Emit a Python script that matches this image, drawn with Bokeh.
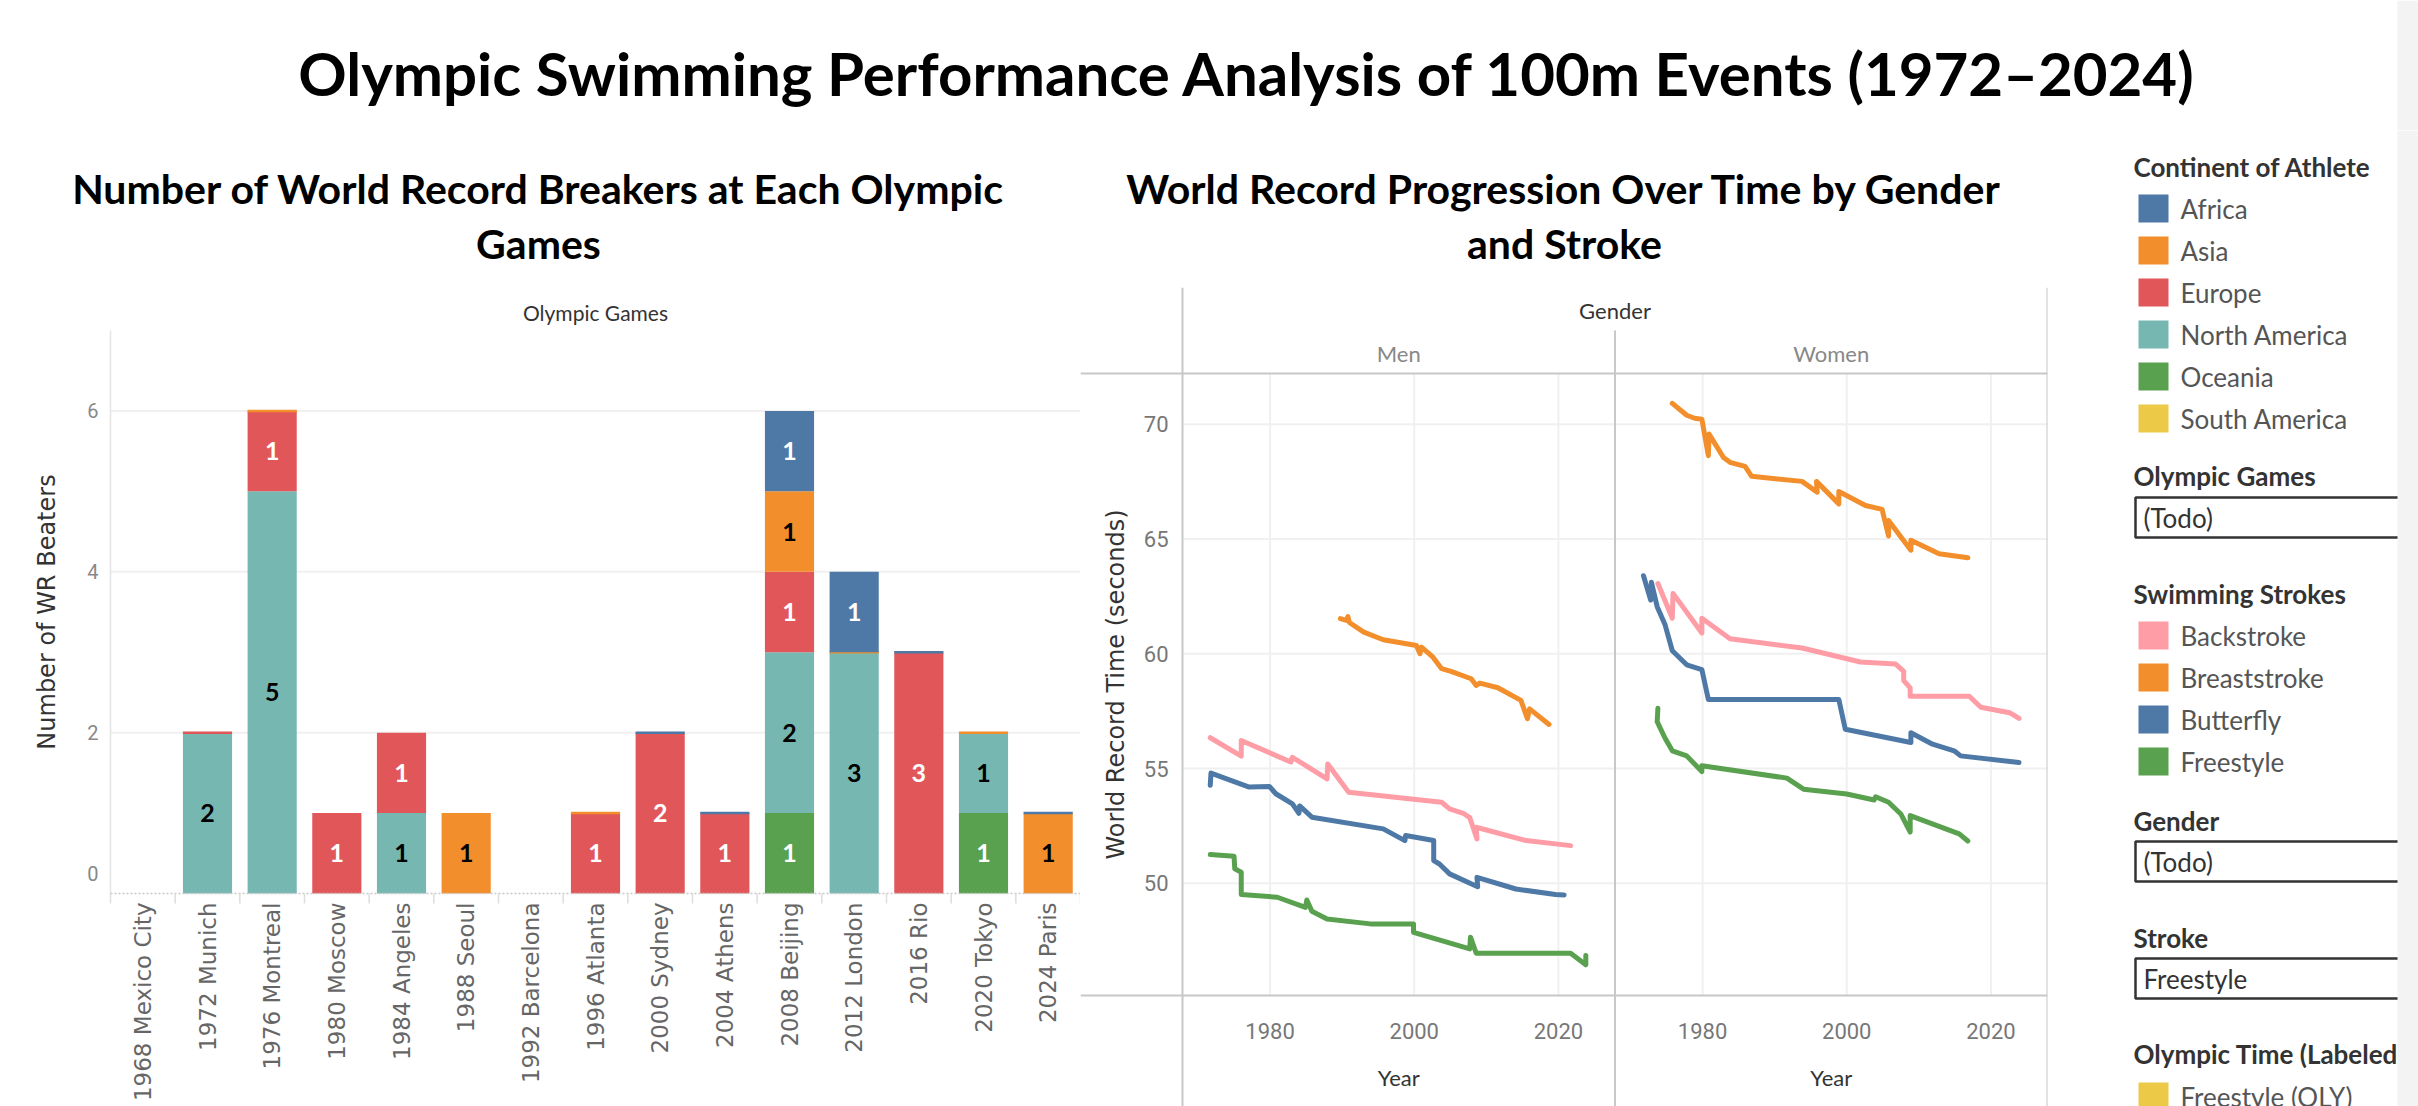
import math
from bokeh.plotting import figure
from bokeh.models import Range1d, ColumnDataSource, Arrow
from bokeh.layouts import row, column
from bokeh.embed import file_html
from bokeh.resources import INLINE
from bokeh.core.properties import value

# ---------------------------------------------------------------- data
main_title = "Olympic Swimming Performance Analysis of 100m Events (1972\u20132024)"
left_title = ["Number of World Record Breakers at Each Olympic", "Games"]
right_title = ["World Record Progression Over Time by Gender", "and Stroke"]

games = ["1968 Mexico City", "1972 Munich", "1976 Montreal", "1980 Moscow",
         "1984 Angeles", "1988 Seoul", "1992 Barcelona", "1996 Atlanta",
         "2000 Sydney", "2004 Athens", "2008 Beijing", "2012 London",
         "2016 Rio", "2020 Tokyo", "2024 Paris"]

continents = ["Africa", "Asia", "Europe", "North America", "Oceania", "South America"]
continent_colors = ["#4E79A7", "#F28E2B", "#E15759", "#76B7B2", "#59A14F", "#EDC948"]
label_colors = ["white", "black", "white", "black", "white", "black"]
# bottom-to-top stacking of the continents
stack_order = ["South America", "Oceania", "North America", "Europe", "Asia", "Africa"]

# world record breakers per Games (None = no swimmer, 0 = present but no record)
wr_africa = [None, None, None, None, None, None, None, None, 0, 0, 1, 1, 0, None, 0]
wr_asia = [None, None, 0, None, None, 1, None, 0, None, None, 1, 0, None, 0, 1]
wr_europe = [None, 0, 1, 1, 1, None, None, 1, 2, 1, 1, None, 3, None, None]
wr_north_america = [None, 2, 5, None, 1, None, None, None, None, None, 2, 3, None, 1, None]
wr_oceania = [None, None, None, None, None, None, None, None, None, None, 1, None, None, 1, None]
wr_south_america = [None] * 15
wr_counts = [wr_africa, wr_asia, wr_europe, wr_north_america, wr_oceania, wr_south_america]

count_ticks = [0, 2, 4, 6]
count_max = 7

strokes = ["Backstroke", "Breaststroke", "Butterfly", "Freestyle"]
stroke_colors = ["#FF9DA7", "#F28E2B", "#4E79A7", "#59A14F"]

# world record progression (year, seconds)
men_back_year = [1971.7, 1976.0, 1976.0, 1982.9, 1983.1, 1987.9, 1988.0, 1990.9, 2003.8,
                 2004.9, 2006.8, 2007.7, 2008.7, 2008.6, 2015.5, 2021.7]
men_back_time = [56.34, 55.54, 56.22, 55.28, 55.49, 54.55, 55.20, 53.97, 53.53,
                 53.24, 53.05, 52.86, 51.93, 52.44, 51.86, 51.64]
men_breast_year = [1989.75, 1990.6, 1990.8, 1991.0, 1993.0, 1995.7, 2000.3, 2000.8, 2001.0,
                   2002.6, 2003.8, 2005.1, 2007.9, 2008.6, 2009.1, 2011.6, 2014.8, 2015.7,
                   2016.0, 2018.7]
men_breast_time = [61.53, 61.45, 61.62, 61.36, 60.94, 60.61, 60.36, 60.00, 60.29,
                   59.85, 59.35, 59.23, 58.91, 58.62, 58.72, 58.52, 57.97, 57.17,
                   57.60, 56.92]
men_fly_year = [1971.7, 1971.8, 1977.1, 1979.9, 1980.8, 1983.1, 1984.0, 1984.1, 1985.8,
                1995.7, 1998.7, 1998.8, 2002.7, 2002.7, 2003.5, 2004.9, 2008.8, 2008.7,
                2014.1, 2019.6, 2020.8]
men_fly_time = [54.27, 54.80, 54.19, 54.22, 53.90, 53.46, 53.05, 53.37, 52.88,
                52.37, 51.86, 52.08, 51.86, 50.99, 50.84, 50.41, 49.85, 50.26,
                49.75, 49.51, 49.49]
men_free_year = [1971.7, 1975.0, 1975.1, 1976.0, 1976.0, 1981.0, 1984.9, 1985.1, 1985.8,
                 1987.9, 1993.9, 1999.9, 1999.9, 2007.7, 2007.8, 2008.6, 2021.7, 2023.8,
                 2023.8]
men_free_time = [51.25, 51.18, 50.63, 50.48, 49.51, 49.39, 48.95, 49.27, 48.78,
                 48.44, 48.23, 48.23, 47.86, 47.14, 47.65, 46.95, 46.95, 46.45,
                 46.85]

women_back_year = [1973.8, 1975.8, 1975.9, 1979.9, 1979.9, 1983.8, 1993.8, 2001.9, 2006.8,
                   2007.9, 2007.9, 2008.8, 2008.8, 2017.0, 2018.6, 2022.6, 2023.9]
women_back_time = [63.06, 61.55, 62.63, 60.90, 61.55, 60.65, 60.25, 59.64, 59.55,
                   59.23, 58.83, 58.51, 58.15, 58.15, 57.67, 57.43, 57.18]
women_breast_year = [1975.8, 1977.8, 1978.9, 1979.9, 1980.8, 1980.9, 1982.9, 1983.8, 1985.9,
                     1986.8, 1993.8, 1995.9, 1995.8, 1998.9, 1998.9, 2002.6, 2004.9, 2005.8,
                     2005.8, 2008.9, 2008.9, 2012.8, 2016.8]
women_breast_time = [70.91, 70.39, 70.26, 70.22, 68.63, 69.57, 68.55, 68.34, 68.16,
                     67.73, 67.51, 67.04, 67.51, 66.53, 67.07, 66.46, 66.29, 65.13,
                     65.81, 64.51, 64.94, 64.36, 64.18]
women_fly_year = [1971.8, 1972.8, 1972.9, 1973.7, 1974.8, 1975.8, 1977.8, 1979.9, 1980.8,
                  1998.9, 1999.8, 2008.9, 2008.9, 2011.9, 2014.9, 2015.8, 2023.9]
women_fly_time = [63.40, 62.34, 63.11, 62.05, 61.26, 60.13, 59.52, 59.31, 58.01,
                  58.01, 56.71, 56.13, 56.56, 56.06, 55.77, 55.55, 55.26]
women_free_year = [1973.8, 1973.7, 1974.8, 1975.8, 1977.8, 1979.9, 1979.9, 1991.7, 1994.0,
                   2000.0, 2003.8, 2004.0, 2005.8, 2007.5, 2008.8, 2008.8, 2015.6, 2016.8]
women_free_time = [57.62, 57.04, 56.32, 55.77, 55.55, 54.87, 55.12, 54.58, 54.10,
                   53.89, 53.63, 53.77, 53.53, 53.02, 52.23, 52.95, 52.15, 51.84]

men_series = [(men_back_year, men_back_time), (men_breast_year, men_breast_time),
              (men_fly_year, men_fly_time), (men_free_year, men_free_time)]
women_series = [(women_back_year, women_back_time), (women_breast_year, women_breast_time),
                (women_fly_year, women_fly_time), (women_free_year, women_free_time)]

year_ticks = [1980, 2000, 2020]
time_ticks = [50, 55, 60, 65, 70]
panel_years = (1967.85, 2027.85)   # each gender panel covers the same span
time_limits = (45.11, 72.21)        # plotted area of the record chart

# ---------------------------------------------------------------- styling
TITLE_FONT = value("Lato")
BODY = value("Lato")
WIDE = value("DejaVu Sans")
TICK = value("Roboto")
FRAME = "#c8c8c8"
GRID = "#f0f0f0"
CHART_H = 819                       # both chart canvases share this height


def blank(width, height, xr, yr, **borders):
    opts = dict(min_border=0)
    opts.update(borders)
    p = figure(width=width, height=height, x_range=xr, y_range=yr,
               x_axis_type=None, y_axis_type=None, output_backend="svg",
               toolbar_location=None, **opts)
    p.outline_line_color = None
    return p


def rule(p, x0, y0, x1, y1, color=FRAME, width=2):
    p.add_layout(Arrow(end=None, x_start=x0, y_start=y0, x_end=x1, y_end=y1,
                       line_color=color, line_width=width))


# ---------------------------------------------------------------- header
head = blank(2418, 130, Range1d(0, 2418), Range1d(130, 0))
head.text(x=[1247], y=[72], text=[main_title], text_font=TITLE_FONT, text_font_style="bold",
          text_font_size="60px", text_align="center", text_baseline="middle",
          text_color="#000000")
head.quad(left=[2397], right=[2418], top=[0], bottom=[130], fill_color="#f3f3f3",
          line_color=None)

titles = blank(2080, 157, Range1d(0, 2080), Range1d(287, 130))
for lines, cx in ((left_title, 538), (right_title, 1564)):
    titles.text(x=[cx, cx], y=[188, 243], text=lines, text_font=TITLE_FONT,
                text_font_style="bold", text_font_size="41px", text_align="center",
                text_baseline="middle", text_color="#000000")

# ---------------------------------------------------------------- bar chart
n = len(games)
unit = 563 / count_max                       # pixels per world-record breaker
slot = 970 / n                               # pixels per Games
left = blank(1080, CHART_H, Range1d(-110 / slot, n),
             Range1d(-213 / unit, count_max + 43 / unit))
centers = [i + 0.5 for i in range(n)]

# value grid and axis line
grid_ticks = [t for t in count_ticks if t > 0]
left.segment(x0=[0] * len(grid_ticks), y0=grid_ticks, x1=[n] * len(grid_ticks),
             y1=grid_ticks, line_color=GRID, line_width=2)
left.segment(x0=[0], y0=[0], x1=[0], y1=[count_max], line_color="#e4e4e4", line_width=1.5)

stack = [0] * n
for cont in stack_order:
    k = continents.index(cont)
    counts, color, tcolor = wr_counts[k], continent_colors[k], label_colors[k]
    bars = dict(x=[], bottom=[], top=[], mid=[], label=[])
    thin = dict(x=[], y=[])
    for i, c in enumerate(counts):
        if c is None:
            continue
        if c > 0:
            bars["x"].append(centers[i])
            bars["bottom"].append(stack[i])
            bars["top"].append(stack[i] + c)
            bars["mid"].append(stack[i] + c / 2)
            bars["label"].append(str(c))
        else:
            thin["x"].append(centers[i])
            thin["y"].append(stack[i])
        stack[i] += c
    src = ColumnDataSource(bars)
    left.vbar(x="x", bottom="bottom", top="top", width=0.76, source=src,
              fill_color=color, line_color=None)
    if thin["x"]:
        left.vbar(x=thin["x"], bottom=thin["y"], top=thin["y"], width=0.76,
                  fill_color=None, line_color=color, line_width=2.5)
    left.text(x="x", y="mid", text="label", source=src, text_font=TITLE_FONT,
              text_font_style="bold", text_font_size="25px", text_align="center",
              text_baseline="middle", text_color=tcolor)

# category axis: dotted baseline, separators and rotated Games names
left.segment(x0=[0], y0=[0], x1=[n], y1=[0], line_color="#c8c8c8", line_width=1.5,
             line_dash="2 2")
left.segment(x0=list(range(n + 1)), y0=[0] * (n + 1), x1=list(range(n + 1)),
             y1=[-10 / unit] * (n + 1), line_color="#dddddd", line_width=1.5)
left.text(x=centers, y=[0] * n, text=games, angle=math.pi / 2, text_align="right",
          text_baseline="middle", y_offset=9, text_font=WIDE, text_font_size="23px",
          text_color="#666666")
left.text(x=[n / 2], y=[count_max], text=["Olympic Games"], y_offset=-18,
          text_align="center", text_baseline="middle", text_font=BODY,
          text_font_size="21px", text_color="#333333")

# value axis labels (the zero label sits just above the baseline)
left.text(x=[0] * len(count_ticks), y=count_ticks, text=[str(t) for t in count_ticks],
          x_offset=-12, y_offset=[-20 if t == 0 else 0 for t in count_ticks],
          text_align="right", text_baseline="middle", text_font=TICK,
          text_font_size="20px", text_color="#888888")
left.text(x=[0], y=[count_max / 2], text=["Number of WR Beaters"], x_offset=-64,
          angle=math.pi / 2, text_align="center", text_baseline="middle", text_font=WIDE,
          text_font_size="24px", text_color="#333333")

# ---------------------------------------------------------------- record progression
span = panel_years[1] - panel_years[0]
ppy = 865 / (2 * span)                         # pixels per year
pps = 622 / (time_limits[1] - time_limits[0])  # pixels per second
x_left = panel_years[0] - 102 / ppy
x_right = panel_years[0] + 2 * span
right = blank(1000, CHART_H, Range1d(x_left, x_right),
              Range1d(time_limits[0] - 111 / pps, time_limits[1] + 86 / pps),
              min_border_right=33)
right.extra_x_ranges = {"women": Range1d(x_left - span, x_right - span)}

right.segment(x0=[panel_years[0]] * len(time_ticks), y0=time_ticks,
              x1=[x_right] * len(time_ticks), y1=time_ticks, line_color=GRID,
              line_width=2)
for rng in ("default", "women"):
    right.segment(x0=year_ticks, y0=[time_limits[0]] * 3, x1=year_ticks,
                  y1=[time_limits[1]] * 3, line_color=GRID, line_width=2,
                  x_range_name=rng)

for (yrs, secs), color in zip(men_series, stroke_colors):
    right.line(yrs, secs, line_color=color, line_width=5, line_join="round",
               line_cap="round")
for (yrs, secs), color in zip(women_series, stroke_colors):
    right.line(yrs, secs, line_color=color, line_width=5, line_join="round",
               line_cap="round", x_range_name="women")

# panel frame
y_top = right.y_range.end
y_bottom = right.y_range.start
for y in time_limits:
    rule(right, x_left, y, x_right, y)
rule(right, panel_years[0], y_top, panel_years[0], y_bottom)
rule(right, x_right, y_top, x_right, y_bottom)
rule(right, panel_years[1], time_limits[1] + 43 / pps, panel_years[1], y_bottom)

# headers, axis labels and titles
mid = (panel_years[0] + panel_years[1]) / 2
right.text(x=[panel_years[1]], y=[time_limits[1]], y_offset=-63, text=["Gender"],
           text_align="center", text_baseline="middle", text_font=BODY,
           text_font_size="22px", text_color="#333333")
for rng, name in (("default", "Men"), ("women", "Women")):
    right.text(x=[mid], y=[time_limits[1]], y_offset=-20, text=[name],
               text_align="center", text_baseline="middle", text_font=BODY,
               text_font_size="22px", text_color="#888888", x_range_name=rng)
    right.text(x=year_ticks, y=[time_limits[0]] * 3, y_offset=35,
               text=[str(t) for t in year_ticks], text_align="center",
               text_baseline="middle", text_font=TICK, text_font_size="22px",
               text_color="#777777", x_range_name=rng)
    right.text(x=[mid], y=[time_limits[0]], y_offset=82, text=["Year"],
               text_align="center", text_baseline="middle", text_font=BODY,
               text_font_size="22px", text_color="#333333", x_range_name=rng)

right.text(x=[panel_years[0]] * len(time_ticks), y=time_ticks,
           text=[str(t) for t in time_ticks], x_offset=-14, text_align="right",
           text_baseline="middle", text_font=TICK, text_font_size="22px",
           text_color="#777777")
right.text(x=[panel_years[0]], y=[sum(time_limits) / 2], x_offset=-67,
           text=["World Record Time (seconds)"], angle=math.pi / 2, text_align="center",
           text_baseline="middle", text_font=WIDE, text_font_size="24px",
           text_color="#333333")

# ---------------------------------------------------------------- filters and legends
leg = blank(338, 976, Range1d(2080, 2418), Range1d(1106, 130))
HX, SX0, SX1, LX = 2133, 2138, 2168, 2180


def heading(y, txt):
    leg.text(x=[HX], y=[y], text=[txt], text_font=BODY, text_font_style="bold",
             text_font_size="26px", text_align="left", text_baseline="middle",
             text_color="#333333")


def swatches(y0, names, colors):
    ys = [y0 + 42 * i for i in range(len(names))]
    leg.quad(left=SX0, right=SX1, top=[y - 14 for y in ys], bottom=[y + 14 for y in ys],
             fill_color=colors, line_color=None)
    leg.text(x=[LX] * len(names), y=ys, text=names, text_font=BODY,
             text_font_size="26px", text_align="left", text_baseline="middle",
             text_color="#555555")


dropdown_titles = {"games": "Olympic Games", "gender": "Gender", "stroke": "Stroke"}
dropdown_values = {"games": "(Todo)", "gender": "(Todo)", "stroke": "Freestyle"}


def dropdown(y_head, y_top, key):
    heading(y_head, dropdown_titles[key])
    leg.quad(left=[2135], right=[2440], top=[y_top], bottom=[y_top + 40],
             fill_color="white", line_color="#333333", line_width=2.5)
    leg.text(x=[2143], y=[y_top + 20], text=[dropdown_values[key]], text_font=BODY,
             text_font_size="26px", text_align="left", text_baseline="middle",
             text_color="#333333")


heading(166, "Continent of Athlete")
swatches(208, continents, continent_colors)
dropdown(475, 497, "games")
heading(593, "Swimming Strokes")
swatches(635, strokes, stroke_colors)
dropdown(820, 841, "gender")
dropdown(937, 958, "stroke")
heading(1053, "Olympic Time (Labeled)")
swatches(1096, ["Freestyle (OLY)"], ["#EDC948"])
leg.quad(left=[2397], right=[2418], top=[130], bottom=[1106], fill_color="#f3f3f3",
         line_color=None)

page = column(head, row(column(titles, row(left, right)), leg))
open("out.html", "w").write(file_html(page, INLINE))
